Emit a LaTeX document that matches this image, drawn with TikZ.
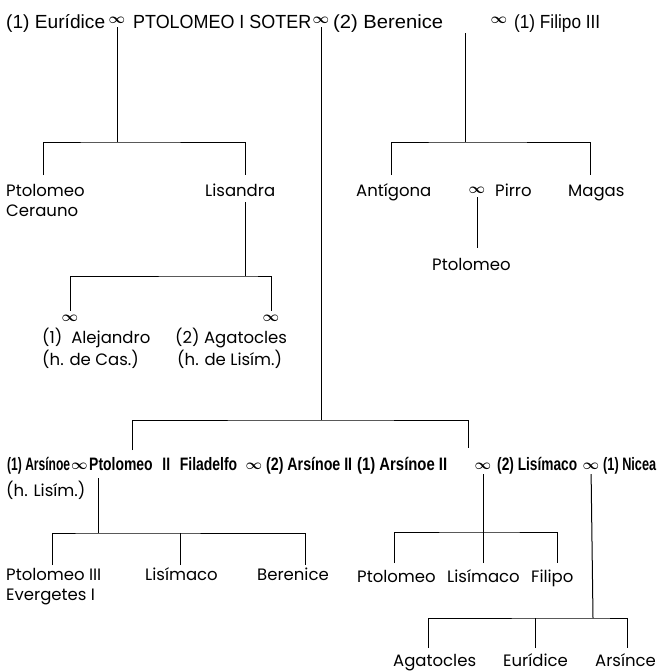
\documentclass[tikz,border=0pt]{standalone}
\usepackage{graphicx}
\usepackage{fontspec}
\setmainfont{Poppins}
\newfontfamily\headfont{Liberation Sans}
\newfontfamily\rowfont[FakeStretch=0.72]{Liberation Sans}
\newcommand{\ancho}[2]{\resizebox{#1}{\height}{#2}}
\usetikzlibrary{positioning}

\begin{document}
\begin{tikzpicture}[x=1pt, y=-1pt,
    lin/.style={line width=1pt},
    top/.style={inner sep=0pt, anchor=base west, font=\headfont\fontsize{19}{22}\selectfont},
    row/.style={inner sep=0pt, anchor=base west, font=\rowfont\bfseries\fontsize{18}{20}\selectfont},
    lab/.style={inner sep=0pt, anchor=base west, font=\fontsize{16.5}{18}\selectfont},
    mtop/.style={inner sep=4pt, anchor=base, font=\boldmath\fontsize{13.5}{15}\selectfont},
    mrow/.style={inner sep=5pt, anchor=base, font=\boldmath\fontsize{13.5}{14}\selectfont},
    mlab/.style={inner sep=4pt, font=\boldmath\fontsize{14}{14}\selectfont}]
    \useasboundingbox (0,0) rectangle (661,672);

    % First generation
    \node[top] (eur) at (6,28) {\ancho{99pt}{(1) Eurídice}};
    \node[mtop] (m1) at (117,23) {$\infty$};
    \node[top] (sot) at (133,28) {\ancho{178pt}{PTOLOMEO I SOTER}};
    \node[mtop] (m2) at (321,23) {$\infty$};
    \node[top] (ber) at (333,28) {\ancho{110pt}{(2) Berenice}};
    \node[mtop] (m3) at (499,23) {$\infty$};
    \node[top] (fil) at (514,28) {\ancho{86pt}{(1) Filipo III}};
    \coordinate (t3) at (465,33);

    % Children of Euridice
    \node[lab] (cer) at (6,196) {Ptolomeo};
    \node[lab] (cer2) at (6,216) {Cerauno};
    \node[lab] (lisa) at (205,196) {Lisandra};
    \coordinate (j1) at (117,142);
    \coordinate (d-cer) at (43,175);
    \coordinate (d-lisa) at (245,175);
    \draw[lin] (m1) -- (j1);
    \draw[lin] (d-cer) |- (j1) -| (d-lisa);

    % Lisandra
    \coordinate (t-lisa) at (245,202);
    \coordinate (j2) at (245,276);
    \node[mlab] (ma1) at (70,318) {$\infty$};
    \node[mlab] (ma2) at (271,318) {$\infty$};
    \node[lab] (ale) at (42,343) {(1)\ \ Alejandro};
    \node[lab] (aga) at (175,343) {(2) Agatocles};
    \node[lab] (hca) at (42,365) {(h. de Cas.)};
    \node[lab] (hli) at (177,365) {(h. de Lisím.)};
    \draw[lin] (t-lisa) -- (j2);
    \draw[lin] (ma1) |- (j2) -| (ma2);

    % Children of Berenice and Filipo
    \node[lab] (ant) at (356,196) {Antígona};
    \node[mlab] (pm) at (477,190) {$\infty$};
    \node[lab] (pir) at (495,196) {Pirro};
    \node[lab] (mag) at (568,196) {Magas};
    \node[lab] (ptp) at (432,270) {Ptolomeo};
    \coordinate (j4) at (465,142);
    \coordinate (d-ant) at (391,175);
    \coordinate (d-mag) at (590,175);
    \coordinate (d-ptp) at (477,248);
    \draw[lin] (t3) -- (j4);
    \draw[lin] (d-ant) |- (j4) -| (d-mag);
    \draw[lin] (pm) -- (d-ptp);

    % Second generation
    \node[row] (ar1) at (7,470) {\ancho{63pt}{(1)\ Arsínoe}};
    \node[mrow] (m4) at (79.5,469) {$\infty$};
    \node[row] (pt2) at (89,470) {\ancho{148pt}{Ptolomeo\hspace{0.5em}II\hspace{0.5em}Filadelfo}};
    \node[mrow] (m5) at (254,469) {$\infty$};
    \node[row] (ar2) at (266,470) {\ancho{86pt}{(2) Arsínoe II}};
    \node[row] (ar3) at (357,470) {\ancho{90pt}{(1) Arsínoe II}};
    \node[mrow] (m6) at (483,469) {$\infty$};
    \node[row] (lis) at (497,470) {\ancho{80pt}{(2) Lisímaco}};
    \node[mrow] (m7) at (591,469) {$\infty$};
    \node[row] (nic) at (603,470) {\ancho{53pt}{(1) Nicea}};
    \coordinate (j3) at (321,420);
    \coordinate (d-pt2) at (132,450);
    \coordinate (d-ar3) at (468,448);
    \draw[lin] (m2) -- (j3);
    \draw[lin] (d-pt2) |- (j3) -| (d-ar3);

    % Children of Ptolomeo II
    \node[lab] (hl) at (6,496) {(h. Lisím.)};
    \node[lab] (p3) at (6,580) {Ptolomeo III};
    \node[lab] (ev) at (6,600) {Evergetes I};
    \node[lab] (lis1) at (145,580) {Lisímaco};
    \node[lab] (ber2) at (257,580) {Berenice};
    \coordinate (t6) at (98,478);
    \coordinate (j6) at (98,533);
    \coordinate (d-p3) at (52,565);
    \coordinate (d-lis1) at (180,565);
    \coordinate (d-ber2) at (305,565);
    \draw[lin] (t6) -- (j6);
    \draw[lin] (d-p3) |- (j6) -| (d-ber2);
    \draw[lin] (d-lis1) -- (d-lis1 |- j6);

    % Children of Arsinoe II
    \node[lab] (ptr) at (357,582) {Ptolomeo};
    \node[lab] (lis2) at (447,582) {Lisímaco};
    \node[lab] (fip) at (531,582) {Filipo};
    \coordinate (j7) at (483,532);
    \coordinate (d-ptr) at (394,563);
    \coordinate (d-lis2) at (483,563);
    \coordinate (d-fip) at (557,563);
    \draw[lin] (m6) -- (j7);
    \draw[lin] (d-ptr) |- (j7) -| (d-fip);
    \draw[lin] (d-lis2) -- (j7);

    % Children of Nicea
    \node[lab] (aga2) at (393,666) {Agatocles};
    \node[lab] (eur2) at (503,666) {Eurídice};
    \node[lab] (ars) at (595,666) {Arsínce};
    \coordinate (j8) at (593,618);
    \coordinate (d-aga2) at (428,648);
    \coordinate (d-eur2) at (535,648);
    \coordinate (d-ars) at (627,648);
    \draw[lin] (m7) -- (j8);
    \draw[lin] (d-aga2) |- (j8) -| (d-ars);
    \draw[lin] (d-eur2) -- (d-eur2 |- j8);
\end{tikzpicture}
\end{document}
